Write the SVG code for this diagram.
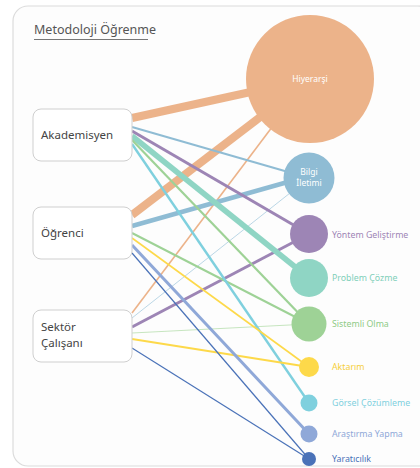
<svg xmlns="http://www.w3.org/2000/svg" width="420" height="468" viewBox="0 0 420 468">
<style>
.card{fill:#fdfdfd;stroke:#dcdcdc;stroke-width:1.2}
.box{fill:#fff;stroke:#cfcfcf;stroke-width:1}
.bt{font-family:"Noto Sans","DejaVu Sans",sans-serif;font-size:11.5px;fill:#444}
.title{font-family:"Noto Sans","DejaVu Sans",sans-serif;font-size:12.5px;fill:#555}
.ct{font-family:"Noto Sans","DejaVu Sans",sans-serif;font-size:8.5px;fill:#fff;text-anchor:middle}
.lt{font-family:"Noto Sans","DejaVu Sans",sans-serif;font-size:8.8px}
#connectors line{fill:none}
</style>
<rect class="card" x="13" y="6" width="420" height="460" rx="15"/>
<g id="title">
<text class="title" x="34" y="34">Metodoloji Öğrenme</text>
<line x1="34" y1="39.5" x2="148" y2="39.5" stroke="#777" stroke-width="1"/>
</g>
<g id="connectors">
<line x1="132" y1="118" x2="310" y2="79" stroke="#ecb38a" stroke-width="8"/>
<line x1="132" y1="215" x2="310" y2="79" stroke="#ecb38a" stroke-width="8"/>
<line x1="132" y1="313" x2="300" y2="90" stroke="#ecb38a" stroke-width="1.6"/>
<line x1="132" y1="127" x2="309" y2="178" stroke="#8fbcd4" stroke-width="2"/>
<line x1="132" y1="226" x2="309" y2="176" stroke="#8fbcd4" stroke-width="4.5"/>
<line x1="132" y1="318" x2="309" y2="178" stroke="#a9cde0" stroke-width="0.8"/>
<line x1="132" y1="131" x2="309" y2="234" stroke="#9d85b5" stroke-width="3"/>
<line x1="132" y1="327" x2="309" y2="234" stroke="#9d85b5" stroke-width="3"/>
<line x1="132" y1="136" x2="309" y2="278" stroke="#8fd5c4" stroke-width="5.5"/>
<line x1="132" y1="140" x2="309" y2="324" stroke="#9ed296" stroke-width="2.2"/>
<line x1="132" y1="233" x2="309" y2="324" stroke="#9ed296" stroke-width="2"/>
<line x1="132" y1="333" x2="309" y2="324" stroke="#bfe2b8" stroke-width="0.9"/>
<line x1="132" y1="144" x2="309" y2="403" stroke="#7fd0de" stroke-width="2.4"/>
<line x1="132" y1="238" x2="309" y2="367" stroke="#fdd94a" stroke-width="1.6"/>
<line x1="132" y1="339" x2="309" y2="367" stroke="#fdd94a" stroke-width="2"/>
<line x1="132" y1="245" x2="309" y2="434" stroke="#8fa8d8" stroke-width="3"/>
<line x1="132" y1="253" x2="309" y2="459" stroke="#4a72b8" stroke-width="1.2"/>
<line x1="132" y1="348" x2="309" y2="459" stroke="#4a72b8" stroke-width="1.2"/>
</g>
<g id="akademisyen"><rect class="box" x="33" y="109" width="99" height="52" rx="8"/><text class="bt" x="41" y="139">Akademisyen</text></g>
<g id="ogrenci"><rect class="box" x="33" y="207" width="99" height="52" rx="8"/><text class="bt" x="41" y="237">Öğrenci</text></g>
<g id="sektor"><rect class="box" x="33" y="310" width="99" height="52" rx="8"/><text class="bt" x="41" y="331">Sektör</text><text class="bt" x="41" y="347">Çalışanı</text></g>
<g id="hiyerarsi"><circle cx="310" cy="79" r="64" fill="#ecb38a"/><text class="ct" x="310" y="82">Hiyerarşi</text></g>
<g id="bilgi"><circle cx="309" cy="178" r="25.5" fill="#8fbcd4"/><text class="ct" x="309" y="175">Bilgi</text><text class="ct" x="309" y="186">İletimi</text></g>
<g id="yontem"><circle cx="309" cy="234" r="19" fill="#9d85b5"/><text class="lt" x="332" y="238" fill="#9d85b5">Yöntem Geliştirme</text></g>
<g id="problem"><circle cx="309" cy="278" r="19" fill="#8fd5c4"/><text class="lt" x="332" y="281" fill="#7fcfb9">Problem Çözme</text></g>
<g id="sistemli"><circle cx="309" cy="324" r="17.5" fill="#9ed296"/><text class="lt" x="332" y="327" fill="#8fcb86">Sistemli Olma</text></g>
<g id="aktarim"><circle cx="309" cy="367" r="10" fill="#fdd94a"/><text class="lt" x="332" y="370" fill="#f5cf3a">Aktarım</text></g>
<g id="gorsel"><circle cx="309" cy="403" r="8.5" fill="#7fd0de"/><text class="lt" x="332" y="406" fill="#7fd0de">Görsel Çözümleme</text></g>
<g id="arastirma"><circle cx="309" cy="434" r="8.5" fill="#8fa8d8"/><text class="lt" x="332" y="437" fill="#8fa8d8">Araştırma Yapma</text></g>
<g id="yaraticilik"><circle cx="309" cy="459" r="7" fill="#4a72b8"/><text class="lt" x="332" y="462" fill="#4a72b8">Yaratıcılık</text></g>
</svg>
